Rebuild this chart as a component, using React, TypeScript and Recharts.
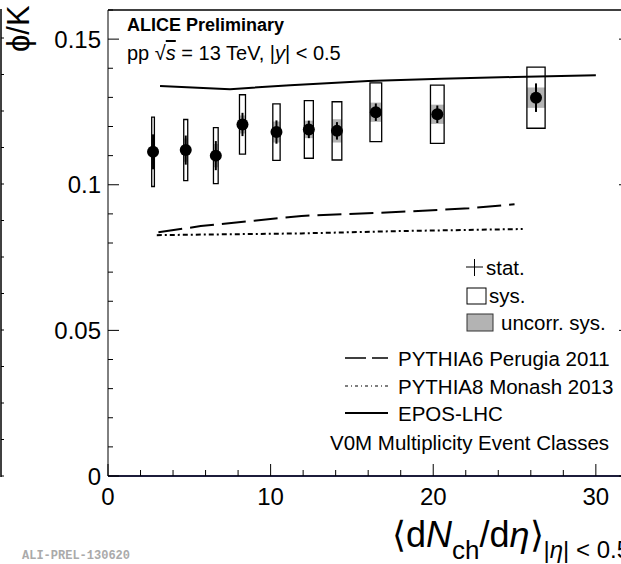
import React from 'react';
import {
  ComposedChart,
  XAxis,
  YAxis,
  Scatter,
  Line,
  ErrorBar,
  ReferenceArea,
  ReferenceLine,
} from 'recharts';

// ---- data ----
const multiplicity = [2.77, 4.78, 6.63, 8.27, 10.36, 12.35, 14.08, 16.47, 20.25, 26.32];
const multiplicityErr = [0.083, 0.123, 0.145, 0.185, 0.225, 0.277, 0.298, 0.36, 0.42, 0.56];
const phiOverK = [0.1113, 0.1119, 0.11, 0.1207, 0.1181, 0.119, 0.1185, 0.1249, 0.1242, 0.1299];
const statErr = [0.006, 0.005, 0.005, 0.004, 0.004, 0.003, 0.003, 0.003, 0.003, 0.0049];
const sysErr = [0.0119, 0.0105, 0.0096, 0.0102, 0.0097, 0.0099, 0.01, 0.0101, 0.01, 0.0105];
const uncorrSysErr = [0.0045, 0.004, 0.004, 0.0031, 0.0036, 0.003, 0.004, 0.0033, 0.0033, 0.0035];

const pythia6X = [3.1, 5.7, 11.9, 18.0, 22.2, 25.0];
const pythia6Y = [0.0837, 0.0858, 0.0893, 0.0907, 0.0919, 0.0933];
const pythia8X = [3.0, 11.9, 18.0, 25.5];
const pythia8Y = [0.0827, 0.0833, 0.0841, 0.0848];
const eposX = [3.2, 7.5, 11.2, 16.0, 20.5, 25.0, 30.0];
const eposY = [0.1339, 0.1328, 0.1342, 0.1356, 0.1364, 0.137, 0.1376];

const xTicks = [0, 2, 4, 6, 8, 10, 12, 14, 16, 18, 20, 22, 24, 26, 28, 30, 32];
const xMajor = [0, 10, 20, 30];
const yTicks = [0, 0.01, 0.02, 0.03, 0.04, 0.05, 0.06, 0.07, 0.08, 0.09, 0.1, 0.11, 0.12, 0.13, 0.14, 0.15, 0.16];
const yMajor = [0, 0.05, 0.1, 0.15];
const yMajorLabels = ['0', '0.05', '0.1', '0.15'];

const X_MAX = 32.1;
const Y_MAX = 0.16;

const FONT = "'Liberation Sans', Arial, Helvetica, sans-serif";

const points = multiplicity.map((x, i) => ({ x, y: phiOverK[i], stat: statErr[i] }));
const pythia6 = pythia6X.map((x, i) => ({ x, y: pythia6Y[i] }));
const pythia8 = pythia8X.map((x, i) => ({ x, y: pythia8Y[i] }));
const epos = eposX.map((x, i) => ({ x, y: eposY[i] }));

const isMajorX = (v: number) => xMajor.some((m) => Math.abs(m - v) < 1e-9);
const majorYIndex = (v: number) => yMajor.findIndex((m) => Math.abs(m - v) < 1e-9);

const XTick = (props: any) => {
  const { x, y, payload } = props;
  const major = isMajorX(payload.value);
  return (
    <g>
      <line x1={x} x2={x} y1={y} y2={y - (major ? 12 : 6)} stroke="#000" strokeWidth={1} />
      {major && (
        <text x={x} y={y + 29} textAnchor="middle" fontSize={24} fontFamily={FONT} fill="#000">
          {payload.value}
        </text>
      )}
    </g>
  );
};

const YTick = (props: any) => {
  const { x, y, payload } = props;
  const idx = majorYIndex(payload.value);
  const major = idx >= 0;
  return (
    <g>
      <line x1={x} x2={x + (major ? 11 : 5)} y1={y} y2={y} stroke="#000" strokeWidth={1} />
      {major && (
        <text x={x - 7} y={y + 8.5} textAnchor="end" fontSize={24} fontFamily={FONT} fill="#000">
          {yMajorLabels[idx]}
        </text>
      )}
    </g>
  );
};

const YTickRight = (props: any) => {
  const { x, y, payload } = props;
  const major = majorYIndex(payload.value) >= 0;
  return <line x1={x} x2={x - (major ? 11 : 5)} y1={y} y2={y} stroke="#000" strokeWidth={1} />;
};

const Dot = (props: any) => {
  const { cx, cy } = props;
  if (cx == null || cy == null) return null;
  return <circle cx={cx} cy={cy} r={6} fill="#000" />;
};

const leftPanelTicks = [38, 74.5, 111, 147.5, 184, 220.5, 257, 293.5, 330, 366.5, 403, 439.5, 476];

export default function App() {
  return (
    <div
      style={{
        position: 'fixed',
        left: 0,
        top: 0,
        width: 621,
        height: 564,
        overflow: 'hidden',
        background: '#fff',
      }}
    >
      <ComposedChart width={631} height={564} margin={{ top: 10, right: 0, bottom: 0, left: 0 }}>
        <XAxis
          dataKey="x"
          type="number"
          domain={[0, X_MAX]}
          ticks={xTicks}
          interval={0}
          tickSize={0}
          tickMargin={0}
          tickLine={false}
          tick={<XTick />}
          height={88}
          axisLine={{ stroke: '#1c1c3a', strokeWidth: 2 }}
          allowDataOverflow
        />
        <YAxis
          yAxisId="left"
          type="number"
          domain={[0, Y_MAX]}
          ticks={yTicks}
          interval={0}
          tickSize={0}
          tickMargin={0}
          tickLine={false}
          tick={<YTick />}
          width={108}
          axisLine={{ stroke: '#000', strokeWidth: 1 }}
          allowDataOverflow
        />
        <YAxis
          yAxisId="right"
          orientation="right"
          type="number"
          domain={[0, Y_MAX]}
          ticks={yTicks}
          interval={0}
          tickSize={0}
          tickMargin={0}
          tickLine={false}
          tick={<YTickRight />}
          width={1}
          axisLine={{ stroke: '#000', strokeWidth: 1 }}
          allowDataOverflow
        />
        <ReferenceLine yAxisId="left" y={Y_MAX} stroke="#000" strokeWidth={1.5} />

        {multiplicity.map((x, i) => (
          <ReferenceArea
            key={'u' + i}
            yAxisId="left"
            x1={x - multiplicityErr[i]}
            x2={x + multiplicityErr[i]}
            y1={phiOverK[i] - uncorrSysErr[i]}
            y2={phiOverK[i] + uncorrSysErr[i]}
            fill="#b3b3b3"
            fillOpacity={1}
            stroke="none"
          />
        ))}
        {multiplicity.map((x, i) => (
          <ReferenceArea
            key={'s' + i}
            yAxisId="left"
            x1={x - multiplicityErr[i]}
            x2={x + multiplicityErr[i]}
            y1={phiOverK[i] - sysErr[i]}
            y2={phiOverK[i] + sysErr[i]}
            fill="none"
            fillOpacity={0}
            stroke="#000"
            strokeWidth={1.3}
          />
        ))}

        <Line
          yAxisId="left"
          data={pythia6}
          dataKey="y"
          type="linear"
          dot={false}
          stroke="#000"
          strokeWidth={2}
          strokeDasharray="24 8"
          isAnimationActive={false}
        />
        <Line
          yAxisId="left"
          data={pythia8}
          dataKey="y"
          type="linear"
          dot={false}
          stroke="#000"
          strokeWidth={2}
          strokeDasharray="5 3 2 3"
          isAnimationActive={false}
        />
        <Line
          yAxisId="left"
          data={epos}
          dataKey="y"
          type="linear"
          dot={false}
          stroke="#000"
          strokeWidth={2}
          isAnimationActive={false}
        />

        <Scatter yAxisId="left" data={points} dataKey="y" shape={<Dot />} isAnimationActive={false}>
          <ErrorBar dataKey="stat" direction="y" width={0} stroke="#000" strokeWidth={2} isAnimationActive={false} />
        </Scatter>
      </ComposedChart>

      <svg
        width={621}
        height={564}
        style={{ position: 'absolute', left: 0, top: 0, pointerEvents: 'none' }}
        fontFamily={FONT}
      >
        {/* edge of the neighbouring panel */}
        <line x1={1} x2={1} y1={9} y2={477} stroke="#000" strokeWidth={1.5} />
        {leftPanelTicks.map((t) => (
          <line key={t} x1={1} x2={4} y1={t} y2={t} stroke="#000" strokeWidth={1} />
        ))}

        {/* y title */}
        <text transform="translate(29,52) rotate(-90)" fontSize={31} fill="#000">
          ϕ/K
        </text>

        <text x={127} y={31} fontSize={18} fontWeight="bold" fill="#000">
          ALICE Preliminary
        </text>
        <text x={127} y={60} fontSize={20} fill="#000">
          pp √<tspan fontStyle="italic" textDecoration="overline">s</tspan> = 13 TeV, |
          <tspan fontStyle="italic">y</tspan>| &lt; 0.5
        </text>

        {/* legend: stat / sys / uncorr */}
        <line x1={466} x2={483} y1={267} y2={267} stroke="#000" strokeWidth={1} />
        <line x1={474.5} x2={474.5} y1={259} y2={276} stroke="#000" strokeWidth={1} />
        <text x={486} y={275} fontSize={20.5} fill="#000">stat.</text>
        <rect x={467} y={288} width={19} height={16} fill="#fff" stroke="#000" strokeWidth={1} />
        <text x={489} y={303} fontSize={20.5} fill="#000">sys.</text>
        <rect x={467} y={314} width={26} height={17} fill="#b3b3b3" stroke="#333" strokeWidth={1} />
        <text x={501} y={330} fontSize={20.5} fill="#000">uncorr. sys.</text>

        {/* legend: models */}
        <line x1={345} x2={388} y1={358} y2={358} stroke="#000" strokeWidth={1.5} strokeDasharray="21 6" />
        <text x={398} y={366} fontSize={20.5} fill="#000">PYTHIA6 Perugia 2011</text>
        <line x1={345} x2={388} y1={386} y2={386} stroke="#000" strokeWidth={1.2} strokeDasharray="3 3 1 3" />
        <text x={398} y={394} fontSize={20.5} fill="#000">PYTHIA8 Monash 2013</text>
        <line x1={345} x2={388} y1={413} y2={413} stroke="#000" strokeWidth={2} />
        <text x={398} y={421} fontSize={20.5} fill="#000">EPOS-LHC</text>
        <text x={330} y={450} fontSize={20.5} fill="#000">V0M Multiplicity Event Classes</text>

        {/* x title */}
        <text x={392} y={547} fontSize={36} fill="#000">
          ⟨d<tspan fontStyle="italic">N</tspan>
          <tspan fontSize={26} dy={12}>ch</tspan>
          <tspan dy={-12}>/d</tspan>
          <tspan fontStyle="italic">η</tspan>⟩
          <tspan fontSize={24} dy={11}>|</tspan>
          <tspan fontSize={24} fontStyle="italic">η</tspan>
          <tspan fontSize={24}>| &lt; 0.5</tspan>
        </text>

        <text x={22} y={559} fontSize={12} fontFamily="'Liberation Mono', 'DejaVu Sans Mono', monospace" fontWeight="bold" fill="#aaa">
          ALI-PREL-130620
        </text>
      </svg>
    </div>
  );
}
